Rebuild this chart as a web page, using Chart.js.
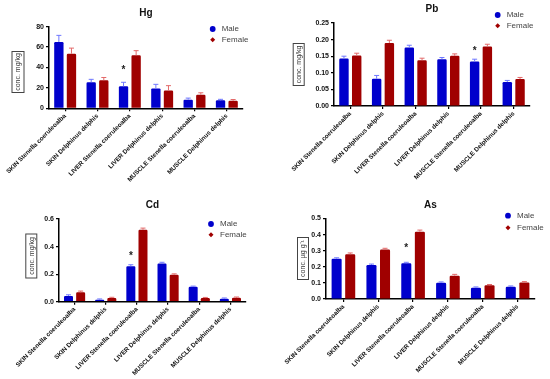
<!DOCTYPE html>
<html>
<head>
<meta charset="utf-8">
<script src="https://cdn.jsdelivr.net/npm/chart.js@4.4.1/dist/chart.umd.min.js"></script>
<style>
  body { margin: 0; background: #fff; }
  #wrap { position: relative; width: 550px; height: 379px; }
  canvas { position: absolute; }
</style>
</head>
<body>
<div id="wrap">
  <canvas id="hg" width="275" height="190" style="left:0;top:0"></canvas>
  <canvas id="pb" width="275" height="190" style="left:275px;top:0"></canvas>
  <canvas id="cd" width="275" height="189" style="left:0;top:190px"></canvas>
  <canvas id="as" width="275" height="189" style="left:275px;top:190px"></canvas>
</div>
<script>
const categories = [
  "SKIN Stenella coeruleoalba",
  "SKIN Delphinus delphis",
  "LIVER Stenella coeruleoalba",
  "LIVER Delphinus delphis",
  "MUSCLE Stenella coeruleoalba",
  "MUSCLE Delphinus delphis"
];
const seriesNames = ["Male", "Female"];

// Hg
const hgMale = [65, 25.5, 21.5, 19.5, 8.5, 7.8];
const hgFemale = [53.5, 27.5, 52, 17.5, 13.3, 7.3];
const hgMaleErr = [71.5, 28.4, 25.5, 23.5, 10, 8.8];
const hgFemaleErr = [59, 30.2, 56.5, 22.2, 15.2, 8.6];
const hgTicks = [0, 20, 40, 60, 80];
const hgStar = [2, 39];

// Pb
const pbMale = [0.143, 0.082, 0.176, 0.141, 0.134, 0.072];
const pbFemale = [0.152, 0.190, 0.138, 0.151, 0.179, 0.081];
const pbMaleErr = [0.150, 0.092, 0.183, 0.146, 0.141, 0.077];
const pbFemaleErr = [0.159, 0.198, 0.144, 0.157, 0.186, 0.086];
const pbTicks = [0, 0.05, 0.10, 0.15, 0.20, 0.25];
const pbStar = [4, 0.171];

// Cd
const cdMale = [0.042, 0.015, 0.258, 0.278, 0.108, 0.022];
const cdFemale = [0.068, 0.026, 0.522, 0.195, 0.026, 0.028];
const cdMaleErr = [0.050, 0.020, 0.268, 0.286, 0.113, 0.027];
const cdFemaleErr = [0.077, 0.032, 0.534, 0.202, 0.031, 0.034];
const cdTicks = [0, 0.2, 0.4, 0.6];
const cdStar = [2, 0.344];

// As
const asMale = [0.250, 0.211, 0.222, 0.101, 0.070, 0.076];
const asFemale = [0.278, 0.307, 0.418, 0.145, 0.085, 0.103];
const asMaleErr = [0.256, 0.217, 0.228, 0.106, 0.075, 0.081];
const asFemaleErr = [0.286, 0.315, 0.428, 0.153, 0.090, 0.108];
const asTicks = [0, 0.1, 0.2, 0.3, 0.4, 0.5];
const asStar = [2, 0.327];

const barColors = ["#0000cc", "#a00000"];
const errColors = ["#6f78ff", "#e36a6a"];
const FONT = "'Liberation Sans', Arial, sans-serif";

function makeChart(id, p) {
  const W = 275, H = p.h, yW = 26;
  const a = p.area;

  const deco = {
    id: "deco",
    afterDatasetsDraw(chart) {
      const ctx = chart.ctx, y = chart.scales.y;
      [p.maleErr, p.femaleErr].forEach((errs, di) => {
        const meta = chart.getDatasetMeta(di);
        ctx.save();
        ctx.strokeStyle = errColors[di];
        ctx.lineWidth = 1;
        meta.data.forEach((bar, i) => {
          const top = y.getPixelForValue(errs[i]);
          ctx.beginPath();
          ctx.moveTo(bar.x, bar.y);
          ctx.lineTo(bar.x, top);
          ctx.moveTo(bar.x - 2.5, top);
          ctx.lineTo(bar.x + 2.5, top);
          ctx.stroke();
        });
        ctx.restore();
      });
      // significance mark
      const sb = chart.getDatasetMeta(0).data[p.star[0]];
      ctx.save();
      ctx.fillStyle = "#222";
      ctx.font = "bold 10px " + FONT;
      ctx.textAlign = "center";
      ctx.textBaseline = "middle";
      ctx.fillText("*", sb.x, y.getPixelForValue(p.star[1]) + 2);
      ctx.restore();
    },
    afterDraw(chart) {
      const ctx = chart.ctx, ca = chart.chartArea;
      ctx.save();
      // title
      ctx.fillStyle = "#111";
      ctx.font = "bold 10px " + FONT;
      ctx.textAlign = "center";
      ctx.textBaseline = "middle";
      ctx.fillText(p.title, (ca.left + ca.right) / 2, p.titleY);

      // legend
      const lg = p.legend;
      ctx.font = "8px " + FONT;
      ctx.textAlign = "left";
      ctx.fillStyle = barColors[0];
      ctx.beginPath();
      ctx.arc(lg[0], lg[1], 2.9, 0, Math.PI * 2);
      ctx.fill();
      ctx.fillStyle = barColors[1];
      ctx.beginPath();
      ctx.moveTo(lg[0], lg[2] - 2.5);
      ctx.lineTo(lg[0] + 2.5, lg[2]);
      ctx.lineTo(lg[0], lg[2] + 2.5);
      ctx.lineTo(lg[0] - 2.5, lg[2]);
      ctx.closePath();
      ctx.fill();
      ctx.fillStyle = "#444";
      ctx.fillText(seriesNames[0], lg[0] + 9, lg[1]);
      ctx.fillText(seriesNames[1], lg[0] + 9, lg[2]);

      // boxed y-axis label
      const b = p.ylab;
      ctx.translate(b[0], b[1]);
      ctx.rotate(-Math.PI / 2);
      ctx.strokeStyle = "#444";
      ctx.lineWidth = 1;
      ctx.strokeRect(-b[2] / 2, -b[3] / 2, b[2], b[3]);
      ctx.fillStyle = "#333";
      ctx.font = "7px " + FONT;
      ctx.textAlign = "center";
      ctx.fillText(p.yTitle, 0, 0.5);
      ctx.restore();
    }
  };

  const axisGrid = {
    display: true,
    drawOnChartArea: false,
    drawTicks: true,
    tickLength: 3,
    offset: false,
    color: "#000",
    lineWidth: 1.2
  };

  new Chart(document.getElementById(id), {
    type: "bar",
    data: {
      labels: categories,
      datasets: [
        { label: seriesNames[0], data: p.male, backgroundColor: barColors[0] },
        { label: seriesNames[1], data: p.female, backgroundColor: barColors[1] }
      ]
    },
    options: {
      responsive: false,
      animation: false,
      devicePixelRatio: 1,
      layout: { padding: { left: a[0] - yW, top: a[1], right: W - a[2], bottom: 0 } },
      datasets: { bar: { categoryPercentage: 0.78, barPercentage: 0.74, borderRadius: 1.2, borderSkipped: "start" } },
      plugins: { legend: { display: false }, title: { display: false }, tooltip: { enabled: false } },
      scales: {
        x: {
          grid: axisGrid,
          border: { display: true, color: "#000", width: 1.5 },
          ticks: {
            autoSkip: false, maxRotation: 45, minRotation: 45, padding: 1,
            color: "#111", font: { family: FONT, size: 6.3, weight: "bold" }
          },
          afterFit(s) { s.height = H - a[3]; s.paddingLeft = 0; s.paddingRight = 0; }
        },
        y: {
          min: 0,
          max: p.ticks[p.ticks.length - 1],
          grid: axisGrid,
          border: { display: true, color: "#000", width: 1.5 },
          ticks: {
            padding: 2, color: "#111", font: { family: FONT, size: 7, weight: "bold" },
            callback: v => Number(v).toFixed(p.dec)
          },
          afterBuildTicks(s) { s.ticks = p.ticks.map(v => ({ value: v })); },
          afterFit(s) { s.width = yW; s.paddingTop = 0; s.paddingBottom = 0; }
        }
      }
    },
    plugins: [deco]
  });
}

makeChart("hg", {
  h: 190, area: [49, 26.7, 243, 108.3], title: "Hg", titleY: 13.3,
  male: hgMale, female: hgFemale, maleErr: hgMaleErr, femaleErr: hgFemaleErr,
  ticks: hgTicks, dec: 0, star: hgStar,
  legend: [212.7, 29, 39.7], ylab: [18, 72, 41, 12], yTitle: "conc. mg/kg"
});
makeChart("pb", {
  h: 190, area: [59, 23, 255, 106], title: "Pb", titleY: 9.3,
  male: pbMale, female: pbFemale, maleErr: pbMaleErr, femaleErr: pbFemaleErr,
  ticks: pbTicks, dec: 2, star: pbStar,
  legend: [222.7, 15, 25.7], ylab: [23.7, 64.5, 42, 11], yTitle: "conc. mg/kg"
});
makeChart("cd", {
  h: 189, area: [59, 29, 246, 111.7], title: "Cd", titleY: 15,
  male: cdMale, female: cdFemale, maleErr: cdMaleErr, femaleErr: cdFemaleErr,
  ticks: cdTicks, dec: 1, star: cdStar,
  legend: [211, 34, 44.7], ylab: [31.3, 66, 44, 11], yTitle: "conc. mg/kg"
});
makeChart("as", {
  h: 189, area: [51, 28.5, 260, 109], title: "As", titleY: 15,
  male: asMale, female: asFemale, maleErr: asMaleErr, femaleErr: asFemaleErr,
  ticks: asTicks, dec: 1, star: asStar,
  legend: [233, 25.7, 37.7], ylab: [28, 68.5, 42, 11], yTitle: "conc. \u00b5g g\u207b\u00b9"
});
</script>
</body>
</html>
